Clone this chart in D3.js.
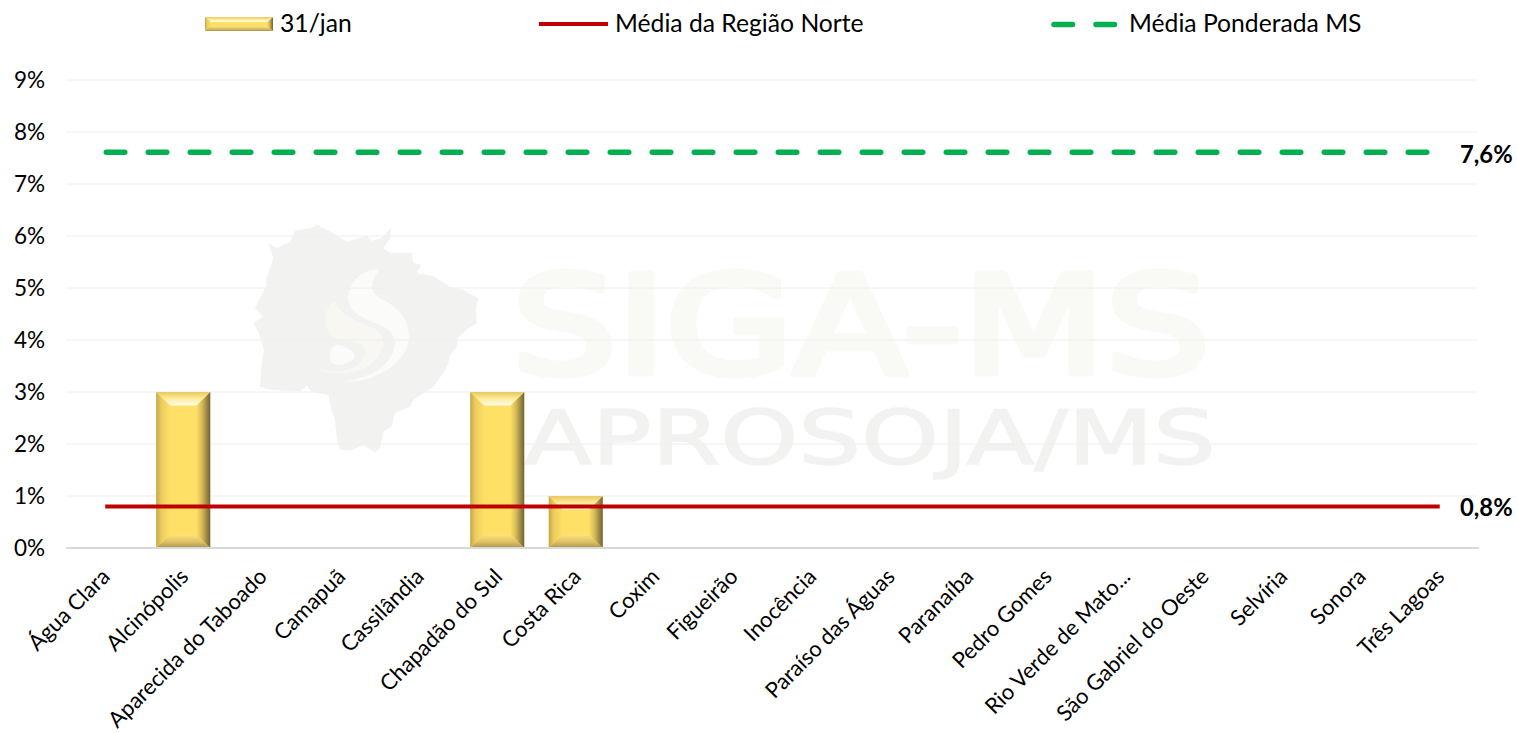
<!DOCTYPE html>
<html><head><meta charset="utf-8">
<script src="https://cdn.jsdelivr.net/npm/d3@7"></script>
<style>html,body{margin:0;padding:0;background:#fff;overflow:hidden}svg{display:block}text{font-family:Lato,"Open Sans",sans-serif;fill:#000}</style>
</head><body><svg id="c" width="1517" height="733"></svg>
<script>
const categories=["Água Clara","Alcinópolis","Aparecida do Taboado","Camapuã","Cassilândia","Chapadão do Sul","Costa Rica","Coxim","Figueirão","Inocência","Paraíso das Águas","Paranaíba","Pedro Gomes","Rio Verde de Mato...","São Gabriel do Oeste","Selvíria","Sonora","Três Lagoas"];
const values=[0,3,0,0,0,3,1,0,0,0,0,0,0,0,0,0,0,0];
const mediaNorte=0.8, mediaMS=7.6;
const yTicks=[0,1,2,3,4,5,6,7,8,9];
const legendLabels=["31/jan","Média da Região Norte","Média Ponderada MS"];
const labelNorte="0,8%", labelMS="7,6%";
const mapOutline=[[85,100],[110,115],[150,95],[165,62],[210,55],[232,45],[280,70],[320,95],[355,85],[380,78],[395,92],[425,85],[455,52],[450,85],[430,115],[450,128],[515,128],[520,158],[545,165],[530,190],[580,198],[630,230],[670,240],[715,265],[708,295],[710,340],[690,352],[655,382],[650,410],[630,435],[625,460],[610,490],[580,530],[520,570],[510,590],[465,610],[455,650],[430,665],[420,715],[405,727],[370,705],[335,720],[300,720],[290,685],[285,630],[275,600],[265,555],[215,545],[200,527],[180,545],[95,540],[60,530],[65,465],[72,420],[55,365],[40,340],[68,320],[45,295],[80,225],[78,210],[100,145]];

const svg=d3.select("#c");
const x=d3.scaleBand().domain(categories).range([66,1479]).paddingInner(0.312).paddingOuter(0.156);
const y=d3.scaleLinear().domain([0,9]).range([548,80]);
const defs=svg.append("defs");
function grad(id,dir,stops){
  const g=defs.append("linearGradient").attr("id",id).attr("x1",0).attr("y1",0)
    .attr("x2",dir==="h"?1:0).attr("y2",dir==="v"?1:0);
  stops.forEach(s=>g.append("stop").attr("offset",s[0]).attr("stop-color",s[1]));
}
grad("bTop","v",[[0,"#e9c95f"],[0.5,"#ffeb9a"],[1,"#fffef0"]]);
grad("bBot","v",[[0,"#ffe479"],[0.6,"#d9bd62"],[1,"#a8934f"]]);
grad("bLeft","h",[[0,"#c2a650"],[0.35,"#eccb5e"],[1,"#ffe066"]]);
grad("bRight","h",[[0,"#ffe066"],[0.4,"#d8bb58"],[1,"#6f6238"]]);

// watermark
const wm=svg.append("g");
const mg=wm.append("g").attr("transform","translate(240,210) scale(0.3333)");
mg.append("polygon").attr("points",mapOutline.map(p=>p.join(",")).join(" ")).attr("fill","#f2f3f1");
mg.append("path").attr("fill","#fbfbfa").attr("d","M418,177 C360,180 325,220 325,265 C328,310 370,325 420,345 C465,365 470,395 462,420 C440,480 380,505 310,515 C400,520 505,460 507,380 C505,320 470,290 420,265 C395,250 390,225 402,205 Z");
mg.append("path").attr("fill","#f8f7f1").attr("d","M285,272 C250,295 245,345 275,378 C300,392 340,392 365,405 C385,425 375,450 345,470 C310,490 265,485 225,475 C290,505 400,495 430,410 C435,380 420,360 380,345 C340,328 300,315 285,272 Z");
mg.append("path").attr("fill","#fbfbfa").attr("d","M290,405 C265,410 265,450 280,462 C300,470 345,455 345,437 C340,420 310,405 290,405 Z");
wm.append("text").text("SIGA-MS").attr("x",512).attr("y",373).attr("textLength",698).attr("lengthAdjust","spacingAndGlyphs")
  .style("font-family","'DejaVu Sans'").style("font-size","135px").style("fill","#f9f9f5").style("stroke","#f9f9f5").style("stroke-width",7).style("stroke-linejoin","round");
wm.append("text").text("APROSOJA/MS").attr("x",524).attr("y",464).attr("textLength",692).attr("lengthAdjust","spacingAndGlyphs")
  .style("font-family","'DejaVu Sans'").style("font-size","74px").style("fill","#f2f3f1").style("stroke","#f2f3f1").style("stroke-width",1.5);

// grid
svg.append("g").selectAll("line").data(yTicks.filter(d=>d>0)).join("line")
  .attr("x1",66).attr("x2",1477).attr("y1",d=>y(d)).attr("y2",d=>y(d)).attr("stroke","#eeeeee").attr("stroke-width",1);

// beveled bar
function bevel(g,x0,y0,w,h,bx,by){
  const x1=x0+w,y1=y0+h;
  const poly=(pts,fill)=>g.append("polygon").attr("points",pts.map(p=>p.join(",")).join(" ")).attr("fill",fill);
  g.append("rect").attr("x",x0).attr("y",y0).attr("width",w).attr("height",h).attr("fill","#ffe066");
  poly([[x0,y0],[x0+bx,y0+by],[x0+bx,y1-by],[x0,y1]],"url(#bLeft)");
  poly([[x1,y0],[x1-bx,y0+by],[x1-bx,y1-by],[x1,y1]],"url(#bRight)");
  poly([[x0,y0],[x1,y0],[x1-bx,y0+by],[x0+bx,y0+by]],"url(#bTop)");
  poly([[x0,y1],[x1,y1],[x1-bx,y1-by],[x0+bx,y1-by]],"url(#bBot)");
}
svg.append("g").selectAll("g").data(categories.map((c,i)=>({c,v:values[i]})).filter(d=>d.v>0)).join("g")
  .each(function(d){bevel(d3.select(this),x(d.c)-0.5,y(d.v),x.bandwidth(),y(0)-y(d.v),14,13.5);});

// axes
const ax=svg.append("g").attr("transform","translate(66,0)").call(d3.axisLeft(y).tickValues(yTicks).tickSize(0).tickPadding(21).tickFormat(d=>d+"%"));
ax.select(".domain").remove();
ax.selectAll("text").style("font-size","22.5px").style("fill","#000");
svg.append("line").attr("x1",66).attr("x2",1479).attr("y1",y(0)).attr("y2",y(0)).attr("stroke","#d9d9d9").attr("stroke-width",2);
const bx=svg.append("g").attr("transform","translate(0,548)").call(d3.axisBottom(x).tickSize(0).tickPadding(0));
bx.select(".domain").remove();
bx.selectAll("text").attr("x",0).attr("y",0).attr("dy",0)
  .style("text-anchor","end").style("font-size","22px").style("fill","#000")
  .attr("transform","translate(6,30) rotate(-45)");

// lines
const xc=c=>x(c)+x.bandwidth()/2;
const ends=[categories[0],categories[17]];
const dash="18.5,23.5";
svg.append("line").attr("x1",xc(ends[0])).attr("x2",xc(ends[1])).attr("y1",y(mediaNorte)).attr("y2",y(mediaNorte)).attr("stroke","#c00000").attr("stroke-width",4);
svg.append("line").attr("x1",xc(ends[0])).attr("x2",xc(ends[1])).attr("y1",y(mediaMS)-0.5).attr("y2",y(mediaMS)-0.5).attr("stroke","#00b050").attr("stroke-width",5.5).attr("stroke-linecap","round").attr("stroke-dasharray",dash).attr("stroke-dashoffset",-1);
svg.append("text").text(labelNorte).attr("x",1460).attr("y",y(mediaNorte)+10).style("font-size","23.8px").style("font-weight",700);
svg.append("text").text(labelMS).attr("x",1460).attr("y",y(mediaMS)+10).style("font-size","23.8px").style("font-weight",700);

// legend
const lg=svg.append("g");
bevel(lg.append("g"),205,17,68,14,6,5);
lg.append("text").text(legendLabels[0]).attr("x",280).attr("y",32).style("font-size","24.7px");
lg.append("line").attr("x1",539).attr("x2",608).attr("y1",24).attr("y2",24).attr("stroke","#c00000").attr("stroke-width",4);
lg.append("text").text(legendLabels[1]).attr("x",615).attr("y",32).style("font-size","24.7px");
lg.append("line").attr("x1",1054).attr("x2",1116).attr("y1",24.5).attr("y2",24.5).attr("stroke","#00b050").attr("stroke-width",5.5).attr("stroke-linecap","round").attr("stroke-dasharray",dash);
lg.append("text").text(legendLabels[2]).attr("x",1129).attr("y",32).style("font-size","24.7px");
</script></body></html>
